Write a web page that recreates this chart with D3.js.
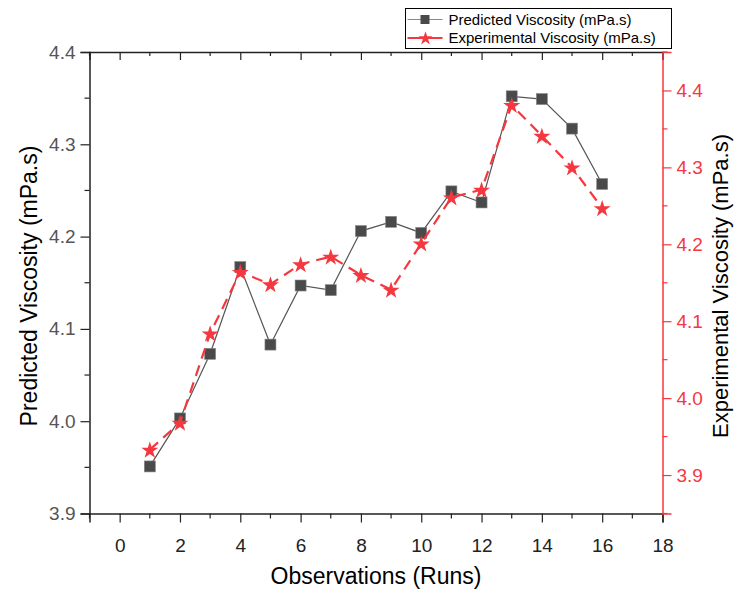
<!DOCTYPE html>
<html>
<head>
<meta charset="utf-8">
<script src="https://cdn.jsdelivr.net/npm/d3@7"></script>
<style>
  body { margin: 0; background: #fff; }
  svg { font-family: Arial, "Liberation Sans", sans-serif; }
</style>
</head>
<body>
<svg id="chart" width="735" height="591"></svg>
<script>
// Data
const runs = [1, 2, 3, 4, 5, 6, 7, 8, 9, 10, 11, 12, 13, 14, 15, 16];
const predicted = [3.951, 4.003, 4.073, 4.167, 4.083, 4.147, 4.142, 4.206, 4.216, 4.204, 4.249, 4.237, 4.352, 4.349, 4.317, 4.257];
const experimental = [3.933, 3.968, 4.084, 4.164, 4.148, 4.174, 4.184, 4.160, 4.141, 4.201, 4.261, 4.271, 4.381, 4.341, 4.300, 4.247];
const xTicks = [0, 2, 4, 6, 8, 10, 12, 14, 16, 18];
const leftTicks = [3.9, 4.0, 4.1, 4.2, 4.3, 4.4];
const rightTicks = [3.9, 4.0, 4.1, 4.2, 4.3, 4.4];

const svg = d3.select('#chart');
const margin = { top: 52, right: 72.5, bottom: 77.5, left: 89.5 };
const width = 735, height = 591;
const red = '#f5383f';

const x = d3.scaleLinear().domain([-1, 18]).range([margin.left, width - margin.right]);
const yL = d3.scaleLinear().domain([3.9, 4.4]).range([height - margin.bottom, margin.top]);
const yR = d3.scaleLinear().domain([3.85, 4.45]).range([height - margin.bottom, margin.top]);

const x0 = margin.left, x1 = width - margin.right;
const y0 = height - margin.bottom, y1 = margin.top;

// minor tick helper
function minorTicks(g, positions, dir, len, color) {
    g.selectAll(null).data(positions).enter().append('line')
        .attr('x1', d => d.x).attr('y1', d => d.y)
        .attr('x2', d => d.x + dir[0] * len).attr('y2', d => d.y + dir[1] * len)
        .attr('stroke', color).attr('stroke-width', 1.2);
}

// Bottom axis
const bottomAxis = svg.append('g')
    .attr('transform', `translate(0,${y0})`)
    .call(d3.axisBottom(x).tickValues(xTicks).tickSize(9).tickFormat(d3.format('d')));
bottomAxis.select('.domain').attr('stroke', '#222').attr('stroke-width', 1.5);
bottomAxis.selectAll('.tick line').attr('stroke', '#222').attr('stroke-width', 1.2);
bottomAxis.selectAll('.tick text').attr('fill', '#222').style('font-size', '19px')
    .attr('y', 38.5).attr('dy', 0);
minorTicks(svg.append('g'), d3.range(-1, 18, 2).map(v => ({ x: x(v), y: y0 })), [0, 1], 5, '#222');

// Top axis (mirror, inward ticks)
const topAxis = svg.append('g')
    .attr('transform', `translate(0,${y1})`)
    .call(d3.axisTop(x).tickValues(xTicks).tickSize(-8).tickFormat(''));
topAxis.select('.domain').attr('stroke', '#222').attr('stroke-width', 1.5);
topAxis.selectAll('.tick line').attr('stroke', '#222').attr('stroke-width', 1.2);
minorTicks(svg.append('g'), d3.range(-1, 18, 2).map(v => ({ x: x(v), y: y1 })), [0, 1], 4, '#222');

// Left axis
const leftAxis = svg.append('g')
    .attr('transform', `translate(${x0},0)`)
    .call(d3.axisLeft(yL).tickValues(leftTicks).tickSize(9).tickFormat(d3.format('.1f')));
leftAxis.select('.domain').attr('stroke', '#222').attr('stroke-width', 1.5);
leftAxis.selectAll('.tick line').attr('stroke', '#222').attr('stroke-width', 1.2);
leftAxis.selectAll('.tick text').attr('fill', '#555').style('font-size', '19px').attr('x', -14);
minorTicks(svg.append('g'), [3.95, 4.05, 4.15, 4.25, 4.35].map(v => ({ x: x0, y: yL(v) })), [-1, 0], 5, '#222');

// Right axis (red)
const rightAxis = svg.append('g')
    .attr('transform', `translate(${x1},0)`)
    .call(d3.axisRight(yR).tickValues(rightTicks).tickSize(9).tickFormat(d3.format('.1f')));
rightAxis.select('.domain').attr('stroke', red).attr('stroke-width', 1.5);
rightAxis.selectAll('.tick line').attr('stroke', red).attr('stroke-width', 1.2);
rightAxis.selectAll('.tick text').attr('fill', red).style('font-size', '19px').attr('x', 14);
minorTicks(svg.append('g'), [3.85, 3.95, 4.05, 4.15, 4.25, 4.35, 4.45].map(v => ({ x: x1, y: yR(v) })), [1, 0], 5, red);

// Predicted series
const linePred = d3.line().x((d, i) => x(runs[i])).y(d => yL(d));
svg.append('path').datum(predicted)
    .attr('d', linePred).attr('fill', 'none')
    .attr('stroke', '#555').attr('stroke-width', 1.2);
svg.append('g').selectAll('rect').data(predicted).enter().append('rect')
    .attr('x', (d, i) => x(runs[i]) - 5.5).attr('y', d => yL(d) - 5.5)
    .attr('width', 11).attr('height', 11)
    .attr('fill', '#4a4a4a').attr('stroke', '#888').attr('stroke-width', 0.6);

// Experimental series
const lineExp = d3.line().x((d, i) => x(runs[i])).y(d => yR(d));
svg.append('path').datum(experimental)
    .attr('d', lineExp).attr('fill', 'none')
    .attr('stroke', red).attr('stroke-width', 2.2)
    .attr('stroke-dasharray', '11,7');
const star = d3.symbol().type(d3.symbolStar).size(90);
svg.append('g').selectAll('path').data(experimental).enter().append('path')
    .attr('d', star)
    .attr('transform', (d, i) => `translate(${x(runs[i])},${yR(d) + 0.8})`)
    .attr('fill', red);

// Axis titles
svg.append('text')
    .attr('transform', 'translate(37,286) rotate(-90)')
    .attr('text-anchor', 'middle').style('font-size', '23px').attr('fill', '#000')
    .text('Predicted Viscosity (mPa.s)');
svg.append('text')
    .attr('transform', 'translate(728,286) rotate(-90)')
    .attr('text-anchor', 'middle').style('font-size', '22px').attr('fill', '#000')
    .text('Experimental Viscosity (mPa.s)');
svg.append('text')
    .attr('x', (x0 + x1) / 2).attr('y', 584)
    .attr('text-anchor', 'middle').style('font-size', '23px').attr('fill', '#000')
    .text('Observations (Runs)');

// Legend
const legend = svg.append('g').attr('transform', 'translate(405.5,8.5)');
legend.append('rect')
    .attr('x', 0).attr('y', 0).attr('width', 266).attr('height', 40)
    .attr('fill', '#fff').attr('stroke', '#000').attr('stroke-width', 1);
const lg1 = legend.append('g').attr('transform', 'translate(0,11)');
lg1.append('line').attr('x1', 2).attr('x2', 37).attr('y1', 0).attr('y2', 0)
    .attr('stroke', '#888').attr('stroke-width', 1.2);
lg1.append('rect').attr('x', 15).attr('y', -4.5).attr('width', 9).attr('height', 9).attr('fill', '#4a4a4a');
lg1.append('text').attr('x', 43).attr('y', 5).style('font-size', '15px').attr('fill', '#000')
    .text('Predicted Viscosity (mPa.s)');
const lg2 = legend.append('g').attr('transform', 'translate(0,29.5)');
lg2.append('line').attr('x1', 2).attr('x2', 37).attr('y1', 0).attr('y2', 0)
    .attr('stroke', red).attr('stroke-width', 2);
lg2.append('path').attr('d', d3.symbol().type(d3.symbolStar).size(60))
    .attr('transform', 'translate(20,0.5)').attr('fill', red);
lg2.append('text').attr('x', 43).attr('y', 5).style('font-size', '15px').attr('fill', '#000')
    .text('Experimental Viscosity (mPa.s)');
</script>
</body>
</html>
